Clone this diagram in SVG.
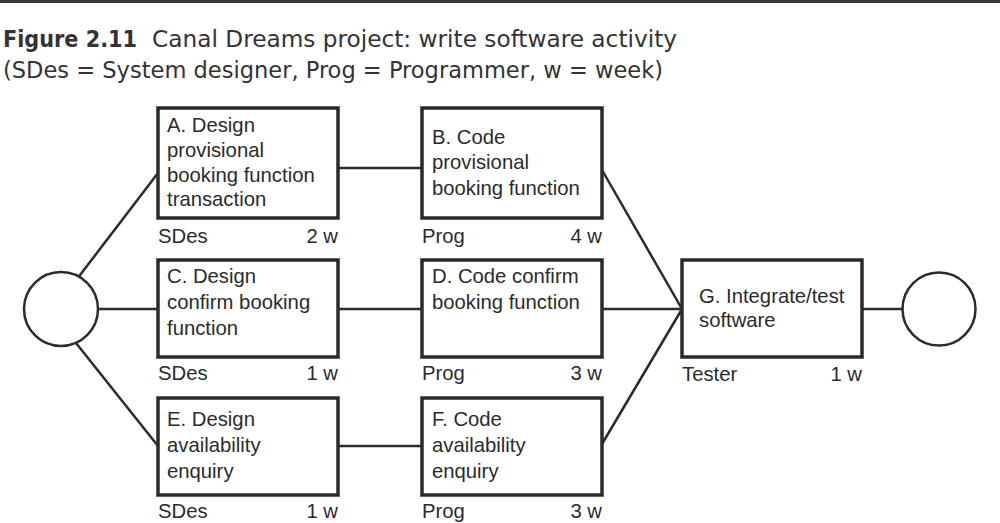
<svg xmlns="http://www.w3.org/2000/svg" width="1000" height="523" viewBox="0 0 1000 523">
<style>
.box{fill:#fff;stroke:#2b2b2b;stroke-width:3.5}
.ev{fill:#fff;stroke:#2b2b2b;stroke-width:2.5}
.con line{stroke:#2b2b2b;stroke-width:2.5}
.t{font-family:"Liberation Sans",Arial,sans-serif;font-size:20.3px;fill:#2b2b2b}
.r{text-anchor:end}
.ti{font-family:"DejaVu Sans Condensed","DejaVu Sans",sans-serif;font-size:23px;fill:#333}
</style>
<rect x="0" y="0" width="1000" height="3" fill="#3a3a3a"/>
<g id="title">
<text class="ti" x="3" y="47" font-weight="bold" textLength="134" lengthAdjust="spacingAndGlyphs">Figure 2.11</text>
<text class="ti" x="152" y="47" textLength="525" lengthAdjust="spacingAndGlyphs">Canal Dreams project: write software activity</text>
<text class="ti" x="3" y="78" textLength="660" lengthAdjust="spacingAndGlyphs">(SDes = System designer, Prog = Programmer, w = week)</text>
</g>
<g id="connectors" class="con">
<line x1="77" y1="279" x2="158" y2="173"/>
<line x1="98" y1="309" x2="158" y2="309"/>
<line x1="76" y1="343" x2="158" y2="446"/>
<line x1="338" y1="168" x2="422" y2="168"/>
<line x1="338" y1="309" x2="422" y2="309"/>
<line x1="338" y1="446" x2="422" y2="446"/>
<line x1="602" y1="170" x2="682" y2="309"/>
<line x1="602" y1="309" x2="682" y2="309"/>
<line x1="602" y1="444" x2="682" y2="309"/>
<line x1="862" y1="309" x2="903" y2="309"/>
</g>
<g id="start"><circle class="ev" cx="61" cy="309" r="37"/></g>
<g id="end"><circle class="ev" cx="939" cy="309" r="36.5"/></g>
<g id="A">
<rect class="box" x="158" y="108" width="180" height="110"/>
<text class="t" x="167" y="132">A. Design</text>
<text class="t" x="167" y="157">provisional</text>
<text class="t" x="167" y="182">booking function</text>
<text class="t" x="167" y="206">transaction</text>
<text class="t" x="158" y="243">SDes</text>
<text class="t r" x="338" y="243">2 w</text>
</g>
<g id="B">
<rect class="box" x="422" y="108" width="180" height="110"/>
<text class="t" x="432" y="144">B. Code</text>
<text class="t" x="432" y="169">provisional</text>
<text class="t" x="432" y="195">booking function</text>
<text class="t" x="422" y="243">Prog</text>
<text class="t r" x="602" y="243">4 w</text>
</g>
<g id="C">
<rect class="box" x="158" y="260" width="180" height="97"/>
<text class="t" x="167" y="283">C. Design</text>
<text class="t" x="167" y="309">confirm booking</text>
<text class="t" x="167" y="335">function</text>
<text class="t" x="158" y="380">SDes</text>
<text class="t r" x="338" y="380">1 w</text>
</g>
<g id="D">
<rect class="box" x="422" y="260" width="180" height="97"/>
<text class="t" x="432" y="283">D. Code confirm</text>
<text class="t" x="432" y="309">booking function</text>
<text class="t" x="422" y="380">Prog</text>
<text class="t r" x="602" y="380">3 w</text>
</g>
<g id="E">
<rect class="box" x="158" y="398" width="180" height="97"/>
<text class="t" x="167" y="426">E. Design</text>
<text class="t" x="167" y="452">availability</text>
<text class="t" x="167" y="478">enquiry</text>
<text class="t" x="158" y="518">SDes</text>
<text class="t r" x="338" y="518">1 w</text>
</g>
<g id="F">
<rect class="box" x="422" y="398" width="180" height="97"/>
<text class="t" x="432" y="426">F. Code</text>
<text class="t" x="432" y="452">availability</text>
<text class="t" x="432" y="478">enquiry</text>
<text class="t" x="422" y="518">Prog</text>
<text class="t r" x="602" y="518">3 w</text>
</g>
<g id="G">
<rect class="box" x="682" y="260" width="180" height="97"/>
<text class="t" x="699" y="303">G. Integrate/test</text>
<text class="t" x="699" y="327">software</text>
<text class="t" x="682" y="381">Tester</text>
<text class="t r" x="862" y="381">1 w</text>
</g>
</svg>
